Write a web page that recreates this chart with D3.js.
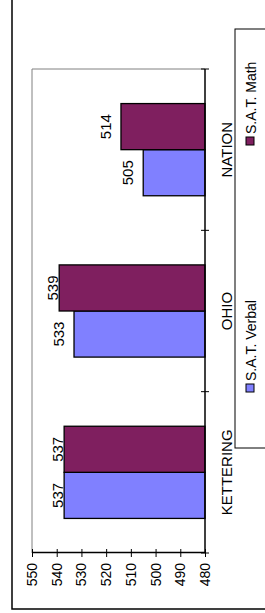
<!DOCTYPE html>
<html lang="en">
<head>
<meta charset="UTF-8">
<title>SAT scores</title>
<style>
  body { margin: 0; background: #fff; }
  text { font-family: "Liberation Sans", Arial, sans-serif; fill: #000; }
</style>
</head>
<body>
<script src="https://d3js.org/d3.v7.min.js"></script>
<script>
// data
var categories = ["KETTERING", "OHIO", "NATION"];
var series = ["S.A.T. Verbal", "S.A.T. Math"];
var verbal = [537, 533, 505];
var math = [537, 539, 514];
var tickValues = [480, 490, 500, 510, 520, 530, 540, 550];
var colors = ["#8080FF", "#7F1F5F"];

const W = 265, H = 613;

const svg = d3.select("body").append("svg")
    .attr("width", W)
    .attr("height", H);

// the chart is drawn lying on its side, so everything goes into a rotated group
const g = svg.append("g")
    .attr("transform", "translate(0," + H + ") rotate(-90)");

// outer chart frame (runs off the top and right of the picture)
g.append("rect")
    .attr("x", 4).attr("y", 12)
    .attr("width", 700).attr("height", 400)
    .attr("fill", "none").attr("stroke", "#000").attr("stroke-width", 1.5);

const x = d3.scaleBand().domain(categories).range([60, 544]);
const xs = d3.scaleBand().domain(series).range([0, x.bandwidth()]).paddingOuter(0.75);
const y = d3.scaleLinear().domain([480, 550]).range([205, 32]);

// plot area border
g.append("path")
    .attr("d", "M" + x.range()[0] + "," + y(550) + "H" + x.range()[1] + "V" + y(480))
    .attr("fill", "none").attr("stroke", "#808080").attr("stroke-width", 1);

var rows = categories.map(function(c, i) {
    return { cat: c, values: [verbal[i], math[i]] };
});

var groups = g.selectAll(".cat")
    .data(rows)
    .enter().append("g")
    .attr("class", "cat")
    .attr("transform", function(d) { return "translate(" + x(d.cat) + ",0)"; });

groups.selectAll("rect")
    .data(function(d) { return d.values.map(function(v, i) { return { s: series[i], v: v, i: i }; }); })
    .enter().append("rect")
    .attr("x", function(d) { return xs(d.s); })
    .attr("y", function(d) { return y(d.v); })
    .attr("width", xs.bandwidth())
    .attr("height", function(d) { return y(480) - y(d.v); })
    .attr("fill", function(d) { return colors[d.i]; })
    .attr("stroke", "#000").attr("stroke-width", 1.3);

groups.selectAll(".lbl")
    .data(function(d) { return d.values.map(function(v, i) { return { s: series[i], v: v }; }); })
    .enter().append("text")
    .attr("class", "lbl")
    .attr("x", function(d) { return xs(d.s) + xs.bandwidth() / 2; })
    .attr("y", function(d) { return y(d.v) - (d.v >= 535 ? 1 : 10); })
    .attr("text-anchor", "middle")
    .style("font-size", "15px")
    .text(function(d) { return d.v; });

// value axis
const yAxis = g.append("g")
    .attr("transform", "translate(" + x.range()[0] + ",0)")
    .call(d3.axisLeft(y).tickValues(tickValues).tickSize(0).tickPadding(10).tickFormat(d3.format("d")));
yAxis.select(".domain").attr("stroke", "#000").attr("stroke-width", 1.5);
yAxis.selectAll("text").style("font-size", "14px").attr("font-family", null);
yAxis.selectAll(".tick").append("line")
    .attr("x1", -4).attr("x2", 4).attr("stroke", "#000");

// category axis
const xAxis = g.append("g")
    .attr("transform", "translate(0," + y(480) + ")");
xAxis.append("line")
    .attr("x1", x.range()[0]).attr("x2", x.range()[1])
    .attr("stroke", "#000").attr("stroke-width", 1.5);
xAxis.selectAll(".tk")
    .data(categories.map(function(c) { return x(c); }).concat([x.range()[1]]))
    .enter().append("line")
    .attr("x1", function(d) { return d; }).attr("x2", function(d) { return d; })
    .attr("y1", -4).attr("y2", 4)
    .attr("stroke", "#000");
xAxis.selectAll(".cl")
    .data(categories)
    .enter().append("text")
    .attr("x", function(d) { return x(d) + x.bandwidth() / 2; })
    .attr("y", 27)
    .attr("text-anchor", "middle")
    .style("font-size", "15px")
    .text(function(d) { return d; });

// legend
const legend = g.append("g");
legend.append("rect")
    .attr("x", 165).attr("y", 235)
    .attr("width", 419).attr("height", 100)
    .attr("fill", "#fff").attr("stroke", "#000").attr("stroke-width", 1);
const lx = d3.scalePoint().domain(series).range([221, 468]);
var items = legend.selectAll(".item")
    .data(series)
    .enter().append("g")
    .attr("transform", function(d) { return "translate(" + lx(d) + ",246)"; });
items.append("rect")
    .attr("width", 8).attr("height", 8)
    .attr("fill", function(d, i) { return colors[i]; })
    .attr("stroke", "#000").attr("stroke-width", 1);
items.append("text")
    .attr("x", 11).attr("y", 9.5)
    .style("font-size", "14px")
    .text(function(d) { return d; });
</script>
</body>
</html>
